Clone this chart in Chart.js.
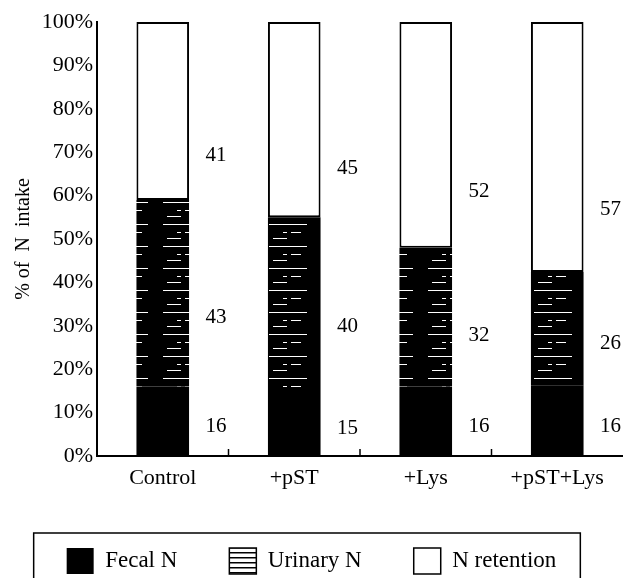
<!DOCTYPE html>
<html>
<head>
<meta charset="utf-8">
<script src="https://cdn.jsdelivr.net/npm/chart.js@4.4.1/dist/chart.umd.min.js"></script>
<style>
  html, body { margin: 0; padding: 0; background: #fff; }
  #wrap { width: 623px; height: 578px; }
</style>
</head>
<body>
<div id="wrap"><canvas id="n-chart"></canvas></div>
<script>
var categories = ['Control', '+pST', '+Lys', '+pST+Lys'];
var fecalN = [16, 15, 16, 16];
var urinaryN = [43, 40, 32, 26];
var nRetention = [41, 45, 52, 57];
var seriesNames = ['Fecal N', 'Urinary N', 'N retention'];

var serif = "'Liberation Serif', 'Times New Roman', serif";

// bars are drawn as share of the total (100% stacked), labels keep the printed values
function asShare(values) {
  return values.map(function(v, j) {
    var total = fecalN[j] + urinaryN[j] + nRetention[j];
    return v / total * 100;
  });
}

function makePattern(w, h, bg, fg, draw) {
  var c = document.createElement('canvas');
  c.width = w; c.height = h;
  var g = c.getContext('2d');
  g.fillStyle = bg; g.fillRect(0, 0, w, h);
  g.fillStyle = fg; draw(g);
  return document.createElement('canvas').getContext('2d').createPattern(c, 'repeat');
}

// black bar with sparse, broken white lines (urinary)
var barStripes = makePattern(53, 22, '#000', '#fff', function(g) {
  g.fillRect(4, 4, 38, 1);
  g.fillRect(18, 12, 4, 1);
  g.fillRect(26, 12, 10, 1);
  g.fillRect(8, 18, 14, 1);
});
// legend swatch: white with black lines
var legendStripes = makePattern(8, 5, '#fff', '#000', function(g) {
  g.fillRect(0, 2, 8, 1.5);
});
var legendFills = ['#000', legendStripes, '#fff'];

var valueLabels = {
  id: 'valueLabels',
  afterDatasetsDraw: function(chart) {
    var ctx = chart.ctx;
    ctx.save();
    ctx.font = '21px ' + serif;
    ctx.fillStyle = '#000';
    ctx.textAlign = 'center';
    ctx.textBaseline = 'middle';
    chart.data.datasets.forEach(function(ds, i) {
      chart.getDatasetMeta(i).data.forEach(function(bar, j) {
        var x = bar.x + bar.width / 2 + 27;
        var y = bar.base + (bar.y - bar.base) * ds.labelAt;
        ctx.fillText(ds.raw[j], x, y);
      });
    });
    ctx.restore();
  }
};

// small upward ticks between the categories
var innerTicks = {
  id: 'innerTicks',
  afterDatasetsDraw: function(chart) {
    var xs = chart.scales.x, ctx = chart.ctx, bottom = chart.chartArea.bottom;
    ctx.save();
    ctx.strokeStyle = '#000';
    ctx.lineWidth = 1.5;
    for (var j = 1; j < categories.length; j++) {
      var x = (xs.getPixelForValue(j - 1) + xs.getPixelForValue(j)) / 2;
      ctx.beginPath();
      ctx.moveTo(x, bottom);
      ctx.lineTo(x, bottom - 7);
      ctx.stroke();
    }
    ctx.restore();
  }
};

var legendFrame = {
  id: 'legendFrame',
  afterDraw: function(chart) {
    var boxes = chart.legend.legendHitBoxes;
    if (!boxes || !boxes.length) return;
    var last = boxes[boxes.length - 1];
    var left = boxes[0].left - 33, right = last.left + last.width + 24;
    var top = chart.legend.top + 37, bottom = chart.height + 5;
    var ctx = chart.ctx;
    ctx.save();
    ctx.strokeStyle = '#000';
    ctx.lineWidth = 1.5;
    ctx.beginPath();
    ctx.moveTo(left, bottom);
    ctx.lineTo(left, top);
    ctx.lineTo(right, top);
    ctx.lineTo(right, bottom);
    ctx.stroke();
    ctx.restore();
  }
};

var ctx = document.getElementById('n-chart').getContext('2d');
var nChart = new Chart(ctx, {
  type: 'bar',
  data: {
    labels: categories,
    datasets: [
      { label: seriesNames[0], data: asShare(fecalN), raw: fecalN, labelAt: 0.42,
        backgroundColor: '#000', borderWidth: 0 },
      { label: seriesNames[1], data: asShare(urinaryN), raw: urinaryN, labelAt: 0.37,
        backgroundColor: barStripes, borderWidth: 0 },
      { label: seriesNames[2], data: asShare(nRetention), raw: nRetention, labelAt: 0.25,
        backgroundColor: '#fff', borderColor: '#000', borderWidth: 2 }
    ]
  },
  options: {
    responsive: true,
    maintainAspectRatio: false,
    animation: false,
    layout: { padding: { top: 22, right: 0, bottom: -6, left: 0 } },
    datasets: { bar: { barPercentage: 0.4, categoryPercentage: 1, clip: false, borderSkipped: false } },
    scales: {
      x: {
        stacked: true,
        grid: { display: false, drawTicks: false, tickLength: 0 },
        border: { display: true, color: '#000', width: 2 },
        ticks: { color: '#000', font: { family: serif, size: 22 }, padding: 9, maxRotation: 0 },
        afterFit: function(s) { s.height = 40; }
      },
      y: {
        stacked: true,
        min: 0,
        max: 100,
        grid: { display: false, drawTicks: false, tickLength: 0 },
        border: { display: true, color: '#000', width: 2 },
        ticks: {
          stepSize: 10,
          color: '#000',
          font: { family: serif, size: 22 },
          padding: 4,
          callback: function(v) { return v + '%'; }
        },
        title: { display: true, text: '% of  N  intake', color: '#000',
                 font: { family: serif, size: 20 }, padding: { top: 12, bottom: 0 } },
        afterFit: function(s) { s.width = 97; }
      }
    },
    plugins: {
      tooltip: { enabled: false },
      legend: {
        position: 'bottom',
        labels: {
          color: '#000',
          font: { family: serif, size: 23 },
          boxWidth: 27,
          boxHeight: 26,
          padding: 52,
          generateLabels: function(chart) {
            return chart.data.datasets.map(function(ds, i) {
              return { text: ds.label, fillStyle: legendFills[i], strokeStyle: '#000',
                       lineWidth: i === 0 ? 0 : 1.5, hidden: false, datasetIndex: i, fontColor: '#000' };
            });
          }
        }
      }
    }
  },
  plugins: [valueLabels, innerTicks, legendFrame]
});
</script>
</body>
</html>
